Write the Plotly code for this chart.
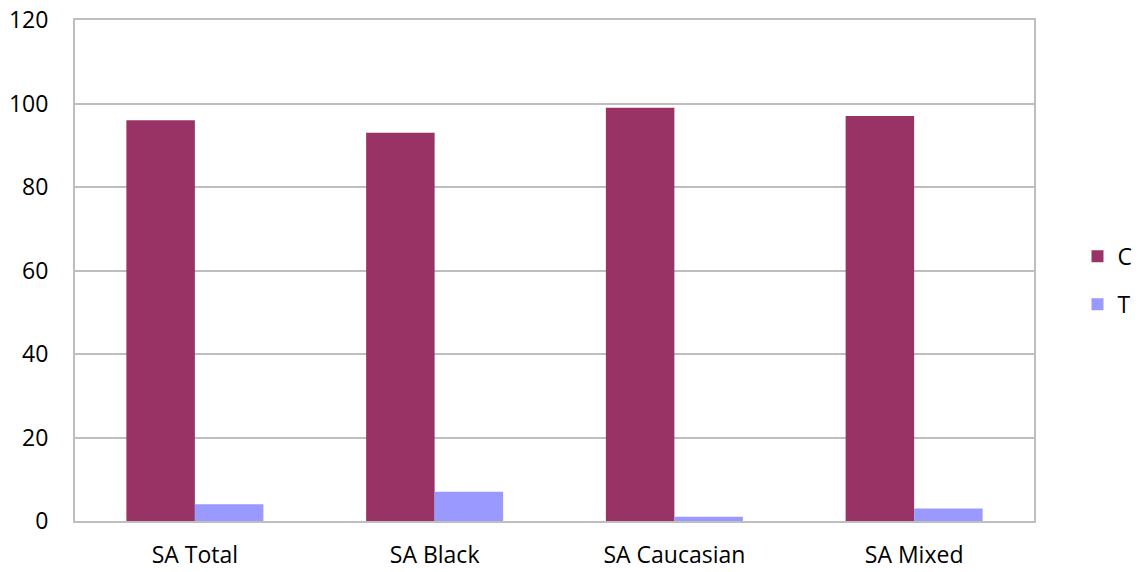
import plotly.graph_objects as go

categories = ["SA Total", "SA Black", "SA Caucasian", "SA Mixed"]
c_values = [96, 93, 99, 97]
t_values = [4, 7, 1, 3]
y_ticks = [0, 20, 40, 60, 80, 100, 120]

FONT = "Open Sans"
GRID = "#BEBEBE"

fig = go.Figure()
fig.add_trace(go.Bar(name="C", x=categories, y=c_values,
                     marker=dict(color="#993366", line=dict(width=0)),
                     legendgroup="c"))
fig.add_trace(go.Bar(name="T", x=categories, y=t_values,
                     marker=dict(color="#9999FF", line=dict(width=0)),
                     legendgroup="t"))

fig.update_layout(
    width=1139, height=572,
    margin=dict(l=75, r=105, t=20, b=51, autoexpand=False),
    paper_bgcolor="white", plot_bgcolor="white",
    barmode="group", bargap=0.4286, bargroupgap=0,
    font=dict(family=FONT, size=23, color="black"),
    showlegend=True,
    legend=dict(xref="container", yref="container",
                x=0.946, y=0.51, xanchor="left", yanchor="middle",
                traceorder="grouped", tracegroupgap=15,
                font=dict(family=FONT, size=23, color="black"),
                itemwidth=30, bgcolor="rgba(0,0,0,0)"),
    xaxis=dict(showgrid=False, showline=True, linecolor=GRID, linewidth=2,
               mirror=True, ticks="", ticklabelstandoff=12, automargin=False),
    yaxis=dict(range=[0, 120], tickvals=y_ticks, showgrid=True,
               gridcolor=GRID, gridwidth=1.5, showline=True, linecolor=GRID,
               linewidth=2, mirror=True, ticks="", zeroline=False,
               ticklabelstandoff=20, automargin=False),
)

fig.write_html("out.html")
